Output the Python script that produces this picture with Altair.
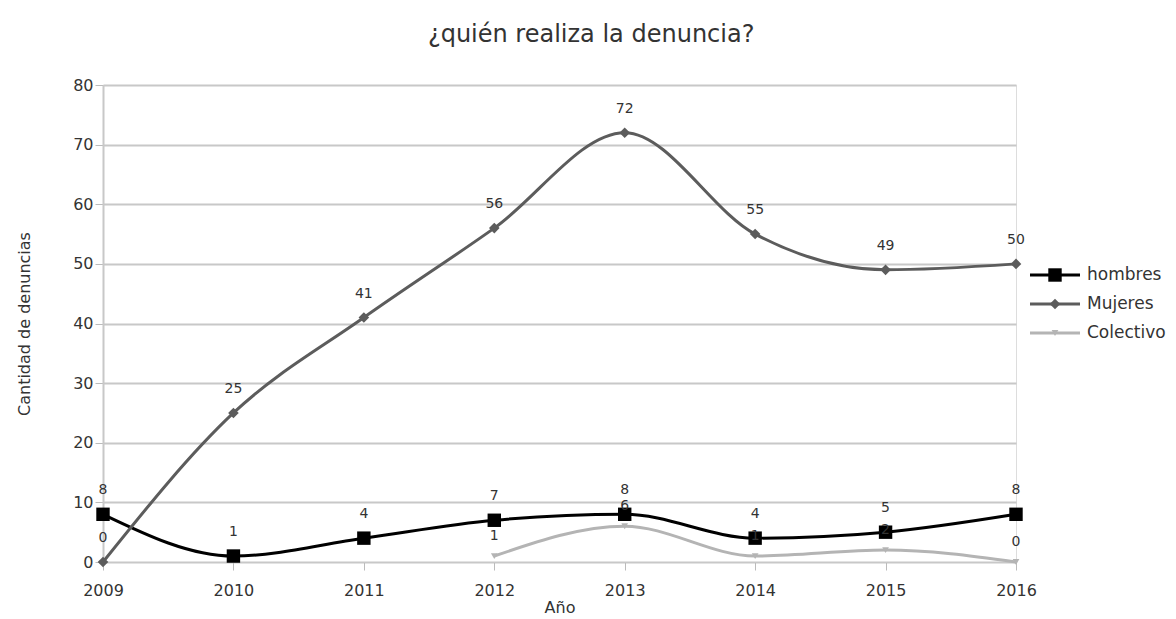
import altair as alt
import pandas as pd

years = [2009, 2010, 2011, 2012, 2013, 2014, 2015, 2016]
hombres = [8, 1, 4, 7, 8, 4, 5, 8]
mujeres = [0, 25, 41, 56, 72, 55, 49, 50]
colectivo_years = [2012, 2013, 2014, 2015, 2016]
colectivo = [1, 6, 1, 2, 0]

series = ["hombres", "Mujeres", "Colectivo"]
colors = ["#000000", "#5c5c5c", "#b4b4b4"]
shapes = ["square", "diamond", "triangle-down"]
sizes = [180, 45, 45]
y_ticks = [0, 10, 20, 30, 40, 50, 60, 70, 80]

rows = []
for y, v in zip(years, hombres):
    rows.append({"Año": y, "valor": v, "serie": "hombres"})
for y, v in zip(years, mujeres):
    rows.append({"Año": y, "valor": v, "serie": "Mujeres"})
for y, v in zip(colectivo_years, colectivo):
    rows.append({"Año": y, "valor": v, "serie": "Colectivo"})
df = pd.DataFrame(rows)
legend_df = pd.DataFrame({"serie": series})

FONT = "DejaVu Sans"
TXT = "#333333"

x_enc = alt.X("Año:Q", scale=alt.Scale(domain=[2009, 2016], nice=False),
              axis=alt.Axis(values=years, format="d", grid=False, title="Año",
                            labelFont=FONT, labelFontSize=16, labelColor=TXT, labelFlush=False,
                            titleFont=FONT, titleFontSize=16, titleFontWeight="normal",
                            titleColor=TXT, tickColor="#bbbbbb", tickSize=8,
                            domainColor="#c8c8c8", labelPadding=12, titlePadding=1))
y_enc = alt.Y("valor:Q", scale=alt.Scale(domain=[0, 80], nice=False),
              axis=alt.Axis(values=y_ticks, grid=True, gridColor="#c8c8c8", gridWidth=2,
                            title="Cantidad de denuncias", labelFont=FONT, labelFontSize=16,
                            labelColor=TXT, titleFont=FONT, titleFontSize=16,
                            titleFontWeight="normal", titleColor=TXT,
                            tickColor="#bbbbbb", tickSize=8, domainColor="#c8c8c8",
                            domainWidth=2, titlePadding=40))
color_enc = alt.Color("serie:N", scale=alt.Scale(domain=series, range=colors), legend=None)
shape_enc = alt.Shape("serie:N", scale=alt.Scale(domain=series, range=shapes), legend=None)
size_enc = alt.Size("serie:N", scale=alt.Scale(domain=series, range=sizes), legend=None)

lines = alt.Chart(df).mark_line(interpolate="monotone", strokeWidth=3).encode(
    x=x_enc, y=y_enc, color=color_enc)
points = alt.Chart(df).mark_point(filled=True, opacity=1).encode(
    x=x_enc, y=y_enc, color=color_enc, shape=shape_enc, size=size_enc)
labels_main = alt.Chart(df).transform_filter(alt.datum.serie != "Colectivo").mark_text(
    dy=-24, font=FONT, fontSize=14, color=TXT).encode(x="Año:Q", y="valor:Q", text="valor:Q")
labels_col = alt.Chart(df).transform_filter(alt.datum.serie == "Colectivo").mark_text(
    dy=-20, font=FONT, fontSize=14, color=TXT).encode(x="Año:Q", y="valor:Q", text="valor:Q")

data_layer = alt.layer(lines, points, labels_main, labels_col)

# legend (line + marker + label), placed to the right of the plot
leg_y = alt.Y("serie:N", scale=alt.Scale(type="point", domain=series, range=[190, 248], padding=0),
              axis=None)
leg_line = alt.Chart(legend_df).mark_rule(strokeWidth=3).encode(
    x=alt.value(927), x2=alt.value(977), y=leg_y, color=color_enc)
leg_point = alt.Chart(legend_df).mark_point(filled=True, opacity=1).encode(
    x=alt.value(952), y=leg_y, color=color_enc, shape=shape_enc, size=size_enc)
leg_text = alt.Chart(legend_df).mark_text(align="left", baseline="middle", font=FONT,
                                          fontSize=17, color=TXT).encode(
    x=alt.value(984), y=leg_y, text="serie:N")
legend_layer = alt.layer(leg_line, leg_point, leg_text)

chart = alt.layer(data_layer, legend_layer).resolve_scale(y="independent").properties(
    width=913, height=477,
    title=alt.TitleParams("¿quién realiza la denuncia?", font=FONT, fontSize=24,
                          fontWeight="normal", color=TXT, offset=30, anchor="middle",
                          frame="bounds"),
    autosize=alt.AutoSizeParams(type="none"),
    padding={"left": 103, "top": 85, "right": 160, "bottom": 57},
).configure_view(stroke="#c8c8c8", strokeWidth=2).configure(background="white")

chart.save("out.html", embed_options={"renderer": "svg", "actions": False})
